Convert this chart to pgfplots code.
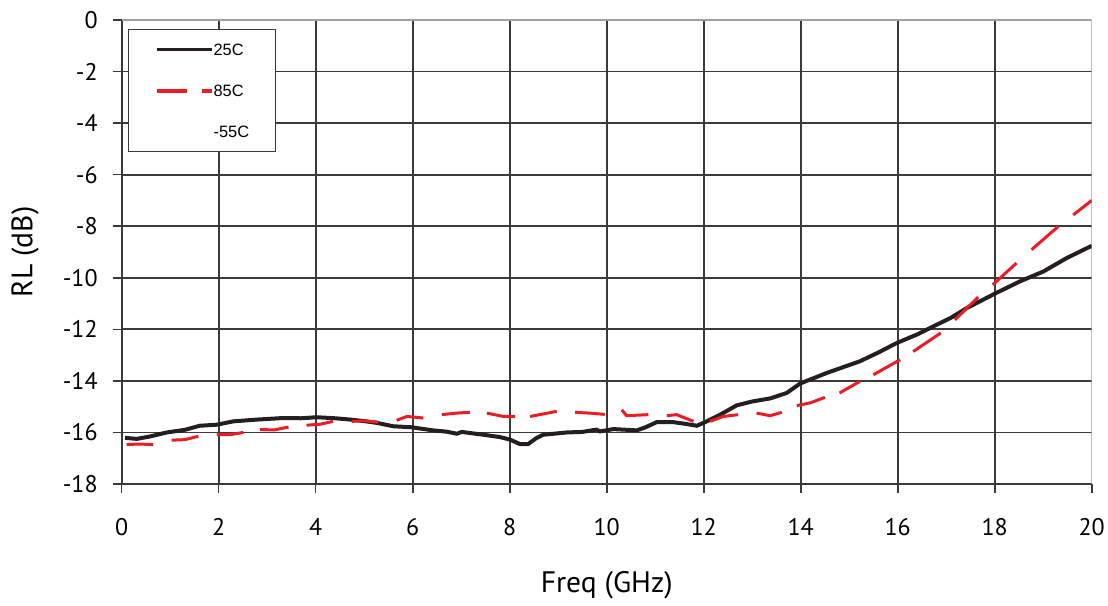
\documentclass[border=0pt]{standalone}
\usepackage{pgfplots}
\pgfplotsset{compat=1.18}
\usepackage{fontspec}
\setmainfont{PT Sans}
\newfontfamily\legfont{Liberation Sans}
\definecolor{cblack}{HTML}{231F20}
\definecolor{cred}{HTML}{ED1C24}
\definecolor{cgrid}{HTML}{3A3A3A}
\definecolor{cframe}{HTML}{A0A0A0}
\begin{document}
\begin{tikzpicture}
\begin{axis}[
  name=ax,
  scale only axis,
  width=485bp, height=232bp,
  xmin=0, xmax=20, ymin=-18, ymax=0,
  axis x line*=bottom, axis y line*=left,
  xtick={0,2,...,18}, ytick={-18,-16,...,-2},
  extra x ticks={20}, extra y ticks={0},
  extra tick style={grid=none},
  tick align=outside,
  major tick length=4.5bp,
  tick style={cgrid, line width=0.8bp},
  grid=major,
  major grid style={cgrid, line width=0.9bp},
  axis line style={-, cgrid, line width=0.9bp},
  /pgf/number format/assume math mode=true,
  ticklabel style={font=\fontsize{12bp}{14bp}\selectfont, inner sep=0pt},
  yticklabel style={anchor=east},
  xticklabel style={anchor=north},
  yticklabel shift=7.35bp,
  xticklabel shift=12.6bp,
  xlabel={Freq (GHz)}, ylabel={RL (dB)},
  label style={font=\fontsize{14.8bp}{17bp}\selectfont},
  xlabel style={at={(0.5,0)}, anchor=center, yshift=-50.5bp},
  ylabel style={at={(0,0.5)}, anchor=center, rotate=0, yshift=48.35bp},
  legend style={at={(0,1)}, anchor=north west, xshift=3.15bp, yshift=-4.5bp,
    draw=cgrid, line width=0.6bp, fill=white,
    font=\legfont\fontsize{8.2bp}{10bp}\selectfont,
    inner xsep=13bp, inner ysep=7bp, row sep=14.5bp,
    nodes={inner sep=0pt, text height=6bp, text depth=0pt}},
  legend cell align=left,
  /tikz/every even column/.append style={column sep=4bp},
  legend image code/.code={\draw[#1] (0bp,0bp) -- (27.5bp,0bp);},
  red seg/.style={cred, line width=1.5bp, forget plot},
]
\draw[cframe, line width=0.8bp] (rel axis cs:0,1) -- (rel axis cs:1,1);
\draw[cframe, line width=1.1bp] (rel axis cs:1,1) -- (rel axis cs:1,0);
\addplot[cblack, line width=2bp, forget plot] coordinates {
(0.07,-16.21)(0.31,-16.25)(0.6,-16.15)(0.93,-16.0)(1.3,-15.9)(1.61,-15.74)
(1.96,-15.70)(2.30,-15.57)(2.8,-15.50)(3.33,-15.44)(3.7,-15.45)(4.02,-15.41)
(4.4,-15.45)(4.71,-15.50)(5.0,-15.56)(5.26,-15.63)(5.6,-15.76)(5.98,-15.80)
(6.42,-15.92)(6.7,-15.97)(6.91,-16.05)(7.01,-15.98)(7.46,-16.09)(7.8,-16.18)
(8.01,-16.28)(8.21,-16.45)(8.38,-16.45)(8.55,-16.22)(8.69,-16.09)(9.18,-16.0)
(9.5,-15.98)(9.79,-15.89)(9.86,-15.96)(10.14,-15.87)(10.62,-15.92)(10.8,-15.80)
(11.03,-15.6)(11.37,-15.6)(11.6,-15.66)(11.86,-15.74)(12.03,-15.6)(12.34,-15.31)
(12.68,-14.95)(13.0,-14.8)(13.37,-14.68)(13.71,-14.47)(13.99,-14.1)(14.54,-13.69)
(15.22,-13.24)(15.6,-12.9)(15.98,-12.53)(16.4,-12.2)(16.73,-11.89)(17.1,-11.55)
(17.42,-11.18)(18.02,-10.6)(18.52,-10.14)(19.0,-9.76)(19.48,-9.24)(20,-8.76)
};
\addplot[red seg] coordinates {(0.10,-16.47)(0.35,-16.45)(0.65,-16.47)};
\addplot[red seg] coordinates {(1.03,-16.30)(1.3,-16.28)(1.58,-16.15)};
\addplot[red seg] coordinates {(1.96,-16.09)(2.25,-16.08)(2.51,-16.0)};
\addplot[red seg] coordinates {(2.85,-15.89)(3.15,-15.90)(3.44,-15.79)};
\addplot[red seg] coordinates {(3.81,-15.72)(4.1,-15.68)(4.36,-15.57)};
\addplot[red seg] coordinates {(4.74,-15.57)(5.0,-15.55)(5.29,-15.6)};
\addplot[red seg] coordinates {(5.67,-15.53)(5.88,-15.38)(6.22,-15.44)};
\addplot[red seg] coordinates {(6.60,-15.31)(6.9,-15.25)(7.18,-15.22)};
\addplot[red seg] coordinates {(7.53,-15.25)(7.87,-15.38)(8.11,-15.38)};
\addplot[red seg] coordinates {(8.42,-15.38)(8.7,-15.28)(8.97,-15.18)};
\addplot[red seg] coordinates {(9.35,-15.22)(9.65,-15.25)(9.96,-15.30)};
\addplot[red seg] coordinates {(10.31,-15.12)(10.41,-15.35)(10.86,-15.31)};
\addplot[red seg] coordinates {(11.24,-15.35)(11.44,-15.31)(11.79,-15.57)};
\addplot[red seg] coordinates {(12.13,-15.57)(12.40,-15.38)(12.71,-15.31)};
\addplot[red seg] coordinates {(13.09,-15.25)(13.37,-15.35)(13.61,-15.22)};
\addplot[red seg] coordinates {(13.92,-14.96)(14.2,-14.85)(14.50,-14.64)};
\addplot[red seg] coordinates {(14.80,-14.47)(15.22,-14.02)};
\addplot[red seg] coordinates {(15.50,-13.76)(16.05,-13.18)};
\addplot[red seg] coordinates {(16.32,-12.86)(16.89,-12.14)};
\addplot[red seg] coordinates {(17.18,-11.63)(17.66,-10.75)};
\addplot[red seg] coordinates {(17.96,-10.27)(18.45,-9.43)};
\addplot[red seg] coordinates {(18.76,-8.91)(19.31,-8.01)};
\addplot[red seg] coordinates {(19.62,-7.56)(20,-7.0)};
\addlegendimage{cblack, line width=1.8bp}
\addlegendentry{25C}
\addlegendimage{cred, line width=2bp, dash pattern=on 15bp off 7.5bp on 5bp off 10bp}
\addlegendentry{85C}
\addlegendimage{draw opacity=0}
\addlegendentry{-55C}
\end{axis}
\pgfresetboundingbox
\path[use as bounding box] ([shift={(-60.85bp,-61bp)}]ax.south west) rectangle ([shift={(8.15bp,10bp)}]ax.north east);
\end{tikzpicture}
\end{document}
